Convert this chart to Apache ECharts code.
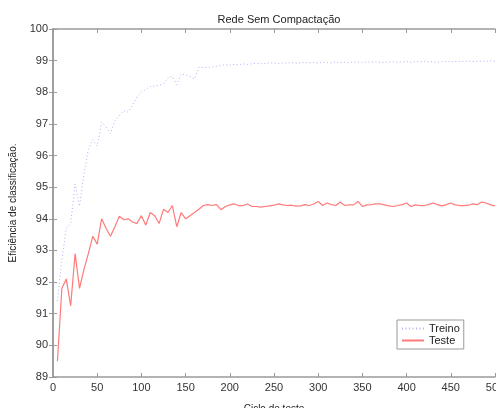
<!DOCTYPE html>
<html><head><meta charset="utf-8">
<script src="https://cdn.jsdelivr.net/npm/echarts@6/dist/echarts.min.js"></script>
<style>html,body{margin:0;padding:0;background:#fff}#c{width:496px;height:408px}</style>
</head><body><div id="c"></div>
<script>
const cycles = [];
for (let i = 5; i <= 500; i += 5) cycles.push(i);
const treino = [91.4,92.7,93.7,93.85,95.1,94.4,95.4,96.2,96.5,96.3,
97.05,96.9,96.7,97.1,97.25,97.42,97.37,97.6,97.85,98.0,
98.1,98.18,98.2,98.22,98.26,98.45,98.5,98.24,98.58,98.55,
98.5,98.42,98.79,98.78,98.79,98.8,98.82,98.85,98.87,98.86,
98.88,98.87,98.9,98.88,98.9,98.92,98.9,98.91,98.93,98.92,
98.91,98.93,98.92,98.94,98.92,98.93,98.95,98.93,98.94,98.92,
98.95,98.94,98.93,98.96,98.94,98.95,98.93,98.96,98.95,98.94,
98.96,98.95,98.97,98.95,98.94,98.96,98.97,98.95,98.96,98.97,
98.95,98.97,98.96,98.98,98.96,98.97,98.95,98.97,98.98,98.96,
98.97,98.98,98.97,98.99,98.97,98.98,98.99,98.98,98.99,98.98];
const teste = [89.5,91.8,92.1,91.25,92.9,91.8,92.4,92.9,93.45,93.2,
94.0,93.7,93.45,93.75,94.08,93.97,94.0,93.9,93.85,94.1,
93.8,94.2,94.1,93.85,94.3,94.2,94.42,93.75,94.2,94.0,
94.1,94.2,94.3,94.42,94.45,94.42,94.45,94.29,94.39,94.44,
94.47,94.42,94.42,94.47,94.39,94.39,94.37,94.39,94.41,94.43,
94.47,94.44,94.42,94.43,94.4,94.41,94.45,94.42,94.47,94.55,
94.42,94.5,94.45,94.42,94.53,94.42,94.44,94.44,94.55,94.39,
94.44,94.45,94.47,94.47,94.44,94.41,94.39,94.42,94.45,94.5,
94.39,94.44,94.42,94.42,94.45,94.5,94.45,94.41,94.45,94.5,
94.44,94.42,94.42,94.43,94.47,94.45,94.53,94.5,94.44,94.41];
const titleText = 'Rede Sem Compactação';
const xName = 'Ciclo de teste';
const yName = 'Eficiência de classificação.';

const font = 'Liberation Sans, Arial, sans-serif';
const axisCol = '#9a9a9a';
const labCol = '#333';
const chart = echarts.init(document.getElementById('c'));
const baseX = {type:'value', min:0, max:500, interval:50, splitLine:{show:false},
  axisLine:{show:true, lineStyle:{color:axisCol, width:1.5}},
  axisTick:{show:true, inside:true, length:4, lineStyle:{color:axisCol}}};
const baseY = {type:'value', min:89, max:100, interval:1, splitLine:{show:false},
  axisLine:{show:true, lineStyle:{color:axisCol, width:1.5}},
  axisTick:{show:true, inside:true, length:4, lineStyle:{color:axisCol}}};
chart.setOption({
  animation:false,
  backgroundColor:'#fff',
  title:{text:titleText, left:274, top:9, textAlign:'center',
    textStyle:{fontFamily:font, fontSize:11, fontWeight:'normal', color:'#222'}},
  grid:{left:53, right:1, top:29, bottom:31, outerBoundsMode:'none', containLabel:false},
  legend:{orient:'vertical', left:397, top:320, padding:[3,4,3,4], itemGap:1,
    itemWidth:22, itemHeight:10, borderColor:'#999', borderWidth:1, backgroundColor:'#fff',
    itemStyle:{opacity:0},
    textStyle:{fontFamily:font, fontSize:11, color:'#222'},
    data:['Treino','Teste']},
  xAxis:[Object.assign({}, baseX, {position:'bottom',
      name:xName, nameLocation:'middle', nameGap:27,
      nameTextStyle:{fontFamily:font, fontSize:10, color:'#222'},
      axisLabel:{fontFamily:font, fontSize:11, color:labCol, margin:5}}),
    Object.assign({}, baseX, {position:'top', axisLabel:{show:false}})],
  yAxis:[Object.assign({}, baseY, {position:'left',
      name:yName, nameLocation:'middle', nameGap:33,
      nameTextStyle:{fontFamily:font, fontSize:10, color:'#222'},
      axisLabel:{fontFamily:font, fontSize:11, color:labCol, margin:5}}),
    Object.assign({}, baseY, {position:'right', axisLabel:{show:false}})],
  series:[
    {name:'Treino', type:'line', xAxisIndex:0, yAxisIndex:0, symbol:'none',
      data:cycles.map((c,i)=>[c,treino[i]]),
      itemStyle:{color:'#aeb2f6'},
      lineStyle:{color:'#aeb2f6', width:1, type:[1,2.5]}},
    {name:'Teste', type:'line', xAxisIndex:0, yAxisIndex:0, symbol:'none',
      data:cycles.map((c,i)=>[c,teste[i]]),
      itemStyle:{color:'#ff7a7a'},
      lineStyle:{color:'#ff7a7a', width:1.2}}
  ]
});
</script></body></html>
